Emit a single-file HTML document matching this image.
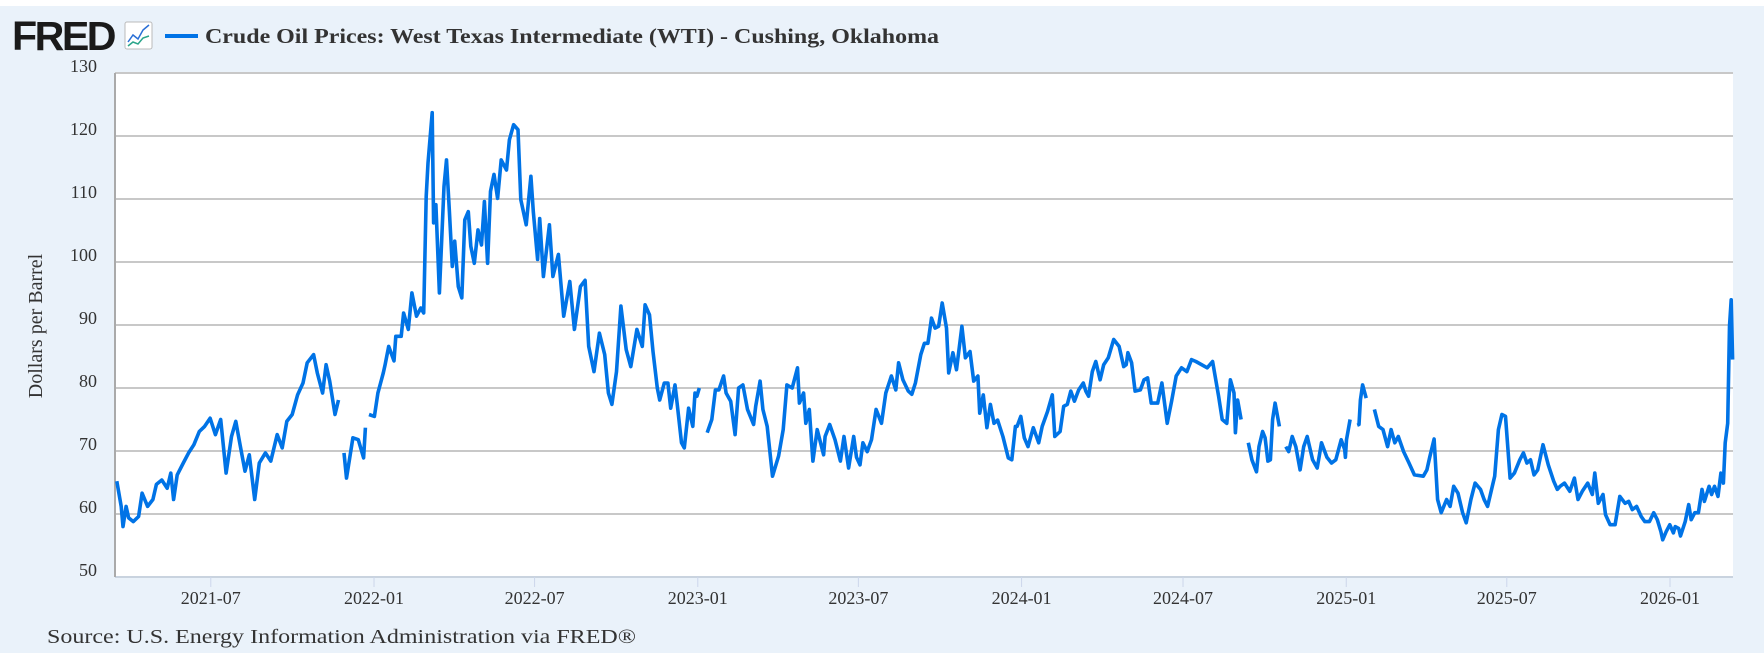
<!DOCTYPE html>
<html><head><meta charset="utf-8"><style>
html,body{margin:0;padding:0;background:#fff;}
svg{display:block;font-family:"Liberation Serif",serif;}
</style></head><body>
<svg id="chart" width="1764" height="653" viewBox="0 0 1764 653" xmlns="http://www.w3.org/2000/svg">
<rect x="0" y="6" width="1764" height="647" fill="#eaf2fa"/>
<text x="12" y="50" font-family="Liberation Sans,sans-serif" font-weight="bold" font-size="41" fill="#1a1a1a" letter-spacing="-2.5" textLength="102" lengthAdjust="spacingAndGlyphs">FRED</text>
<g>
<rect x="125" y="22" width="27" height="27" fill="#fff" stroke="#bbb" rx="2"/>
<polyline points="128,42 133,35 138,39 143,30 149,25" fill="none" stroke="#2a6fd6" stroke-width="1.5"/>
<polyline points="128,46 133,42 138,44 143,38 149,36" fill="none" stroke="#2aa58a" stroke-width="1.5"/>
</g>
<line x1="165" y1="36" x2="198" y2="36" stroke="#0073e6" stroke-width="4"/>
<text x="205" y="43" font-size="21" font-weight="bold" fill="#333" textLength="734" lengthAdjust="spacingAndGlyphs">Crude Oil Prices: West Texas Intermediate (WTI) - Cushing, Oklahoma</text>
<rect x="115" y="73" width="1618" height="504" fill="#fff"/>
<g id="grid"></g>
<g id="xaxis"></g>
<path id="series" fill="none" stroke="#0073e6" stroke-width="3.6" stroke-linejoin="round"/>
<text transform="translate(42,326) rotate(-90)" text-anchor="middle" font-size="20" fill="#333">Dollars per Barrel</text>
<text x="47" y="643" font-size="20" fill="#333" textLength="589" lengthAdjust="spacingAndGlyphs">Source: U.S. Energy Information Administration via FRED®</text>
</svg>
<script>
// days since 2021-03-15
const days = [2,7,9,12.5,15.3,20.6,26.6,30.6,36.7,42.7,46.7,52.8,58.8,62.9,66.1,70.1,77,83,89,95,101,107.2,113.2,119.2,125.3,131.3,136.2,141.4,146.6,151.4,157.5,162.7,169.6,175.6,182.9,188.5,193.7,199.8,205.8,211.9,216.7,223.9,228,234,238,242,248,252,255,
258.2,261,268.2,274.3,280.3,282.3,284,
286.3,292.4,296.4,302.5,304.5,308.5,314.5,316.6,322.6,325.4,330.6,334.7,339.9,344.7,348,350.8,352.8,357.6,359.2,361.7,365.7,370.9,373.7,377,380.2,383,387,391,394.3,398.3,401.1,405.1,409.2,413.2,416.4,420,423.3,427.3,431.3,435.4,441.4,444.6,449.4,454.3,457.5,463.5,468.8,471.6,476.4,478.8,482.9,489.7,493.7,499.8,505.8,512.7,517.9,524.7,530,534,540,546.1,552.1,556.2,560.2,565.4,570.3,576.3,581.5,588.4,594.4,597.6,602.5,606.5,611.3,
614,619.2,623.3,626.5,631.3,633.7,638.6,641.8,646.6,651.4,653.9,656,658.7,664.7,667.6,672.8,676.8,680.8,686.1,688.9,694.1,699,703,707.8,713,719.9,722.3,727.2,730.4,735.2,741.2,748.1,753.3,757.4,763.4,769.4,771.5,776.3,778.7,782.7,786.8,791.6,798.8,800.5,805.7,811.7,817.8,821.8,827,832.7,835.9,839.9,843.1,848,852.8,858,864.1,868.9,875.3,880.2,883.4,888.2,894.3,898.3,902.3,908.4,912.4,916.4,920.5,924.5,928.5,932.5,937.4,939.8,944.6,948.6,954.7,958.7,963.9,968,972.8,974.8,978.8,982.9,986.9,990.9,995,1001,1007,1011,1015,1017,1021.1,1025.1,1029.2,1035.2,1041.3,1045.3,1051.3,1056.6,1059.4,1065.4,1069.5,1073.5,1077.5,1081.5,1086.4,1091.6,1094.4,1097.6,1101.7,1105.7,1110.5,1114.6,1119.8,1125.8,1131.9,1137.1,1139.9,1141.9,1146,1150,1156,1160,1164.1,1168.1,1175.4,1180.2,1186.2,1191.1,1196.3,1202.3,1208.4,1213.6,1218.5,
1231.3,1237.3,1244.1,1248.2,1253.4,1257.4,1261.5,1263,1265.5,1269.5,1273.5,1277.6,1281.6,1286.8,1289.6,1293.7,1296.5,1299.7,1302.5,1305,1307.8,1312.6,1315.8,1319.9,1323.1,1327.1,1331.1,1336,1340,1344,1350.1,1355.3,1360.1,1366.2,1371.4,1376.2,1382.3,1386.3,1387,1388.3,1392.3,1396.4,1400.4,1402.4,1404,1406.4,1410.5,1415.7,1419.7,1424.6,1429.4,1434.6,1438.6,1442.7,1446.7,1452.7,1458.8,1464.8,1474.9,1478.9,1482.1,1487,1491,1495,1501.1,1505.1,1509.1,1514,1519.2,1523.2,1528.5,1533.3,1539.3,1543.4,1547.4,1552.6,1555.4,1559.5,1563.5,1567.5,1572.7,1577.6,1583.6,1587.7,1591.7,1595.7,1599.7,1603.8,1609.8,1615.8,1621.9,1625.9,1629.1,1634,1640,1645.2,1649.3,1654.1,1660.2,1665.4,1668.2,1672.2,1677.5,1680.3,1685.5,1691.1,1696.4,1702.4,1706.4,1710.5,1715.3,1720.5,1724.6,1729.8,1734.6,1738.7,1742.7,1744.7,1748.7,1752.8,1756.8,1758.8,1762.8,1764.8,1770.1,1774.1,1776.9,1780.9,1785,1789,1791.8,1797.1,1799.9,1803.1,1807.1,1810.4,1812,1813.2,1815.2,1818,1820,1822,1823.6];
const prices = [65.2,61.2,58,61.2,59.4,58.8,59.6,63.3,61.2,62.3,64.7,65.4,64.1,66.5,62.3,66.2,68.1,69.7,71,73.1,73.9,75.2,72.6,75,66.5,72.3,74.7,70.7,66.8,69.4,62.3,68.1,69.7,68.4,72.6,70.5,74.7,75.8,78.9,80.8,84,85.3,82.4,79.2,83.7,81.1,75.8,78.1,null,
69.7,65.7,72.1,71.8,68.9,73.7,null,
75.8,75.5,79.2,82.4,83.7,86.6,84.3,88.2,88.2,91.9,89.3,95.1,91.4,92.7,91.9,110.4,115.7,123.7,106.2,109.1,95.1,112,116.2,108,99.3,103.3,96.1,94.3,106.7,108,102.5,99.8,105.1,102.7,109.6,99.8,111.2,113.9,110.1,116.2,114.6,119.4,121.8,121,109.9,105.9,113.6,108,100.4,106.9,97.7,105.9,97.7,101.2,91.4,96.9,89.3,96.1,97.1,86.6,82.6,88.7,85.3,79.2,77.4,82.6,93,86.1,83.4,89.3,86.6,93.2,91.6,85.8,80,78.1,80.8,
80.8,76.8,80.5,77.6,71.3,70.5,76.8,73.9,79.2,78.7,80,null,72.9,75,79.7,79.7,81.9,79.2,77.9,72.6,80,80.5,76.6,74.2,77.1,81.1,76.6,73.9,66,69.2,73.4,80.5,80,83.2,77.6,79.2,74.4,76.6,68.4,73.4,69.4,72.3,74.2,71.8,68.4,72.3,67.3,72.3,69,67.8,71.3,69.9,71.8,76.6,74.4,79.2,81.9,79.7,84,81.3,79.5,79,80.8,85.3,87.1,87.1,91.1,89.5,89.8,93.5,89.5,82.4,85.6,82.9,89.8,84.8,85.8,81.1,81.9,76,78.9,73.7,77.4,74.4,74.9,72.3,68.9,68.6,73.9,73.9,75.5,72.1,70.7,73.7,71.3,73.9,76.3,78.9,72.3,73.1,77.1,77.4,79.5,77.9,79.7,80.8,79.5,78.7,82.6,84.2,81.3,83.7,84.8,87.7,86.6,83.4,83.7,85.6,84,79.5,79.7,81.3,81.6,77.6,77.6,80.8,74.4,77.9,81.9,83.2,82.6,84.5,84.2,83.2,84.2,
78.7,75,74.4,81.3,79.2,72.9,78.1,75,null,71.3,68.6,66.7,70.7,73.1,72.1,68.4,68.6,75,77.6,73.9,null,70.7,69.9,72.3,70.7,67,70.7,72.3,68.6,67.3,71.3,69,68.1,68.6,71.8,70.2,69,71.8,75,null,74.1,74.2,78.1,80.5,78.4,null,76.6,73.9,73.4,70.7,73.4,71.3,72.3,69.9,68.1,66.2,66,67,69,71.9,62.3,60.2,62.3,61.2,64.4,63.3,60.2,58.6,62.3,64.9,63.9,62.3,61.2,64.4,66,73.4,75.8,75.5,65.7,66.5,68.6,69.7,68.1,68.6,66.2,67,71,67.8,65.2,63.9,64.4,64.9,63.6,65.7,62.3,63.6,64.9,63.1,66.5,61.7,63.1,59.9,58.3,58.3,62.8,61.7,62,60.7,61.2,59.6,58.8,58.8,60.2,59.1,57.2,55.9,57.2,58.3,57,58,57.7,56.5,58.8,61.5,59.1,60.2,60.2,63.9,62,64.4,63.1,64.4,62.8,66.5,66.2,64.9,71.3,74.4,89.8,94,84.5,98.3,98.3,94];
const yTicks = [50,60,70,80,90,100,110,120,130];
const xTickLabels = ["2021-07","2022-01","2022-07","2023-01","2023-07","2024-01","2024-07","2025-01","2025-07","2026-01"];
const xTickDays = [108,292,473,657,838,1022,1204,1388,1569,1753];

const X0=115, X1=1733, Y0=577, Y1=73, DMAX=1824, VMIN=50, VMAX=130;
const sx = d => X0 + d/DMAX*(X1-X0);
const sy = v => Y0 - (v-VMIN)/(VMAX-VMIN)*(Y0-Y1);
const NS="http://www.w3.org/2000/svg";
const grid=document.getElementById('grid'), xa=document.getElementById('xaxis');
yTicks.forEach(v=>{
  const l=document.createElementNS(NS,'line');
  l.setAttribute('x1',X0);l.setAttribute('x2',X1);l.setAttribute('y1',sy(v));l.setAttribute('y2',sy(v));
  l.setAttribute('stroke',v===50?'#c9d3df':'#c8c8c8');l.setAttribute('stroke-width','2');
  
  
  grid.appendChild(l);
  const t=document.createElementNS(NS,'text');
  t.setAttribute('x',97);t.setAttribute('y',sy(v)-1);t.setAttribute('text-anchor','end');
  t.setAttribute('font-size','18');t.setAttribute('fill','#333');t.textContent=v;
  
  
  grid.appendChild(t);
});
const ax=document.createElementNS(NS,'line');
ax.setAttribute('x1',X0);ax.setAttribute('x2',X0);ax.setAttribute('y1',Y1);ax.setAttribute('y2',Y0);
ax.setAttribute('stroke','#aaa');ax.setAttribute('stroke-width','2');


grid.appendChild(ax);
xTickLabels.forEach((lab,i)=>{
  const x=sx(xTickDays[i]);
  const tk=document.createElementNS(NS,'line');
  tk.setAttribute('x1',x);tk.setAttribute('x2',x);tk.setAttribute('y1',Y0);tk.setAttribute('y2',Y0+10);
  tk.setAttribute('stroke','#ccd6eb');tk.setAttribute('stroke-width','1');
  
  
  xa.appendChild(tk);
  const t=document.createElementNS(NS,'text');
  t.setAttribute('x',x);t.setAttribute('y',604);t.setAttribute('text-anchor','middle');
  t.setAttribute('font-size','18');t.setAttribute('fill','#333');t.textContent=lab;
  
  
  xa.appendChild(t);
});
let d='', pen=false;
for(let i=0;i<days.length;i++){
  const v=prices[i];
  if(v===null||v===undefined){pen=false;continue;}
  d+=(pen?'L':'M')+sx(days[i]).toFixed(1)+','+sy(v).toFixed(1);
  pen=true;
}
document.getElementById('series').setAttribute('d',d);
</script>
</body></html>
